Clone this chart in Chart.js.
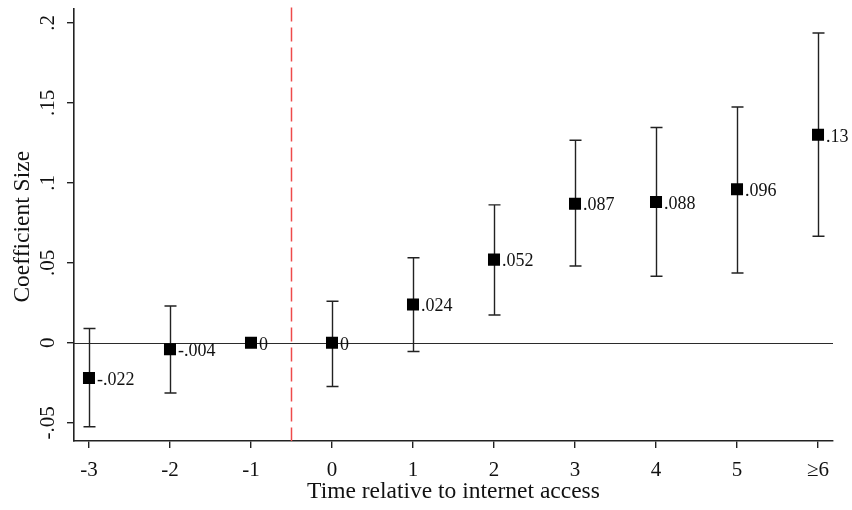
<!DOCTYPE html>
<html>
<head>
<meta charset="utf-8">
<script src="https://cdn.jsdelivr.net/npm/chart.js@4.4.1/dist/chart.umd.min.js"></script>
<style>
  html, body { margin: 0; padding: 0; background: #fff; }
  #wrap { width: 852px; height: 510px; position: relative; }
</style>
</head>
<body>
<div id="wrap"><canvas id="c" width="852" height="510"></canvas></div>
<script>
// ---- data ----
const categories = ['-3', '-2', '-1', '0', '1', '2', '3', '4', '5', '≥6'];
const periods = [-3, -2, -1, 0, 1, 2, 3, 4, 5, 6];
const coefficients = [-0.022, -0.004, 0, 0, 0.024, 0.052, 0.087, 0.088, 0.096, 0.13];
const ciLower = [-0.0525, -0.0314, null, -0.0273, -0.0054, 0.0174, 0.048, 0.0416, 0.0436, 0.0666];
const ciUpper = [0.0089, 0.023, null, 0.026, 0.0532, 0.0862, 0.1266, 0.1346, 0.1474, 0.1937];
const pointLabels = ['-.022', '-.004', '0', '0', '.024', '.052', '.087', '.088', '.096', '.13'];
const yTickValues = [-0.05, 0, 0.05, 0.1, 0.15, 0.2];
const yTickLabels = ['-.05', '0', '.05', '.1', '.15', '.2'];
const treatmentLine = -0.5;
const xTitle = 'Time relative to internet access';
const yTitle = 'Coefficient Size';

const FONT = '"Liberation Serif", "Times New Roman", serif';

const overlay = {
  id: 'overlay',
  beforeDatasetsDraw(chart) {
    const ctx = chart.ctx, xs = chart.scales.x, ys = chart.scales.y, a = chart.chartArea;
    ctx.save();
    // zero line
    ctx.strokeStyle = '#2b2b2b';
    ctx.lineWidth = 1.2;
    ctx.beginPath();
    const y0 = Math.round(ys.getPixelForValue(0)) + 0.5;
    ctx.moveTo(a.left, y0); ctx.lineTo(a.right, y0); ctx.stroke();
    // dashed treatment line
    ctx.strokeStyle = '#ee4a4a';
    ctx.lineWidth = 1.5;
    ctx.setLineDash([14, 6]);
    const xl = xs.getPixelForValue(treatmentLine);
    ctx.beginPath(); ctx.moveTo(xl, a.top - 1); ctx.lineTo(xl, a.bottom); ctx.stroke();
    ctx.setLineDash([]);
    // error bars
    ctx.strokeStyle = '#222';
    ctx.lineWidth = 1.4;
    periods.forEach((p, i) => {
      if (ciLower[i] === null || ciUpper[i] === null) return;
      const x = Math.round(xs.getPixelForValue(p)) + 0.5;
      const yl = ys.getPixelForValue(ciLower[i]);
      const yu = ys.getPixelForValue(ciUpper[i]);
      ctx.beginPath();
      ctx.moveTo(x, yl); ctx.lineTo(x, yu);
      ctx.moveTo(x - 6, yl); ctx.lineTo(x + 6, yl);
      ctx.moveTo(x - 6, yu); ctx.lineTo(x + 6, yu);
      ctx.stroke();
    });
    ctx.restore();
  },
  afterDraw(chart) {
    const ctx = chart.ctx, xs = chart.scales.x, ys = chart.scales.y, a = chart.chartArea;
    ctx.save();
    ctx.fillStyle = '#111';
    // point labels
    ctx.font = '18px ' + FONT;
    ctx.textAlign = 'left';
    ctx.textBaseline = 'middle';
    periods.forEach((p, i) => {
      const x = xs.getPixelForValue(p);
      const y = ys.getPixelForValue(coefficients[i]);
      ctx.fillText(pointLabels[i], x + 8, y + 2);
    });
    // y tick labels (rotated)
    ctx.font = '21px ' + FONT;
    ctx.textAlign = 'center';
    ctx.textBaseline = 'middle';
    yTickValues.forEach((v, i) => {
      const y = ys.getPixelForValue(v);
      ctx.save();
      ctx.translate(48, y);
      ctx.rotate(-Math.PI / 2);
      ctx.fillText(yTickLabels[i], 0, 0);
      ctx.restore();
    });
    // y title
    ctx.font = '23.5px ' + FONT;
    ctx.save();
    ctx.translate(23, (a.top + a.bottom) / 2 + 2);
    ctx.rotate(-Math.PI / 2);
    ctx.fillText(yTitle, 0, 0);
    ctx.restore();
    // x title
    ctx.textAlign = 'center';
    ctx.textBaseline = 'middle';
    ctx.fillText(xTitle, (a.left + a.right) / 2, 492);
    ctx.restore();
  }
};

new Chart(document.getElementById('c'), {
  type: 'scatter',
  data: {
    datasets: [{
      data: periods.map((p, i) => ({ x: p, y: coefficients[i] })),
      pointStyle: 'rect',
      pointRadius: 8.5,
      pointHoverRadius: 8.5,
      backgroundColor: '#000',
      borderColor: '#000',
      borderWidth: 0,
      showLine: false
    }]
  },
  options: {
    responsive: false,
    animation: false,
    events: [],
    layout: { padding: { left: 0, top: 5, right: 19, bottom: 0 } },
    plugins: { legend: { display: false }, tooltip: { enabled: false } },
    scales: {
      x: {
        type: 'linear',
        min: -3.185,
        max: 6.185,
        afterBuildTicks(scale) { scale.ticks = periods.map(v => ({ value: v })); },
        afterFit(scale) { scale.height = 69; },
        ticks: {
          callback: (v) => categories[periods.indexOf(v)],
          font: { family: FONT, size: 21 },
          color: '#111',
          padding: 10,
          maxRotation: 0, minRotation: 0
        },
        grid: { drawOnChartArea: false, drawTicks: true, tickLength: 7, color: '#222', lineWidth: 1.4 },
        border: { display: true, color: '#222', width: 1.6 }
      },
      y: {
        type: 'linear',
        min: -0.0614,
        max: 0.209,
        afterBuildTicks(scale) { scale.ticks = yTickValues.map(v => ({ value: v })); },
        afterFit(scale) { scale.width = 74; },
        ticks: { display: false },
        grid: { drawOnChartArea: false, drawTicks: true, tickLength: 7, color: '#222', lineWidth: 1.4 },
        border: { display: true, color: '#222', width: 1.6 }
      }
    }
  },
  plugins: [overlay]
});
</script>
</body>
</html>
